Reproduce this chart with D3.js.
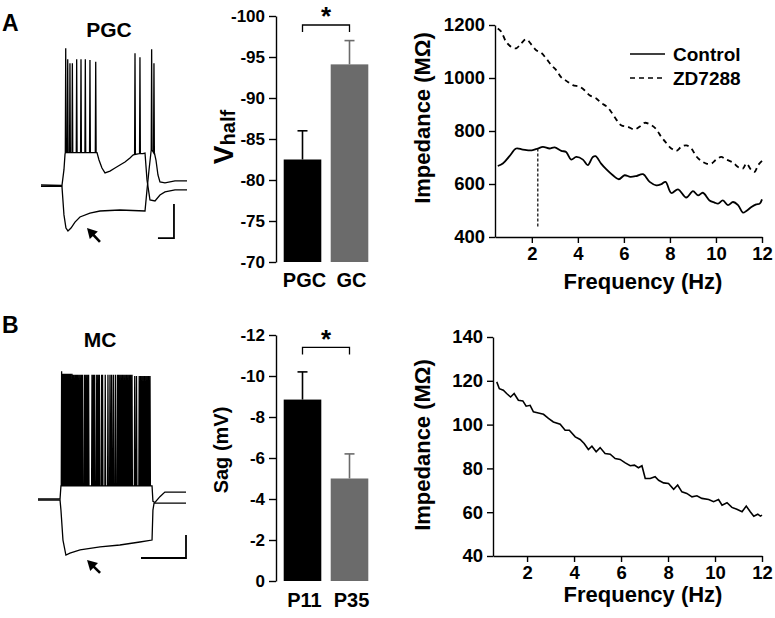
<!DOCTYPE html>
<html><head><meta charset="utf-8">
<script src="https://cdn.jsdelivr.net/npm/d3@7"></script>
<style>
html,body{margin:0;padding:0;background:#fff;}
text{font-family:"Liberation Sans",Arial,sans-serif;font-weight:bold;fill:#000;}
</style></head>
<body>
<script>
// ---------------- DATA ----------------
// Panel A bar chart (V half)
const barCatsA = ["PGC", "GC"];
const barValsA = [-82.5, -94.1];
const barErrA = [3.5, 2.9];
const barTicksA = [-100, -95, -90, -85, -80, -75, -70];
// Panel B bar chart (Sag)
const barCatsB = ["P11", "P35"];
const barValsB = [-8.85, -5.0];
const barErrB = [1.35, 1.2];
const barTicksB = [-12, -10, -8, -6, -4, -2, 0];
const barColors = ["#000000", "#6b6b6b"];

// Panel A impedance
const freqCtrlA = [0.52,0.74,1.03,1.32,1.61,2.0,2.26,2.48,2.77,2.99,3.28,3.49,3.71,3.93,4.22,4.43,4.65,4.77,5.01,5.23,5.52,5.78,6.03,6.28,6.54,6.83,7.12,7.41,7.62,7.81,8.06,8.35,8.71,9.0,9.22,9.43,9.72,9.94,10.09,10.3,10.52,10.74,10.96,11.17,11.32,11.54,11.75,11.9,12.0];
const impCtrlA = [668,677,705,734,730,727,734,740,734,738,725,721,692,702,692,671,702,705,677,656,633,618,633,627,630,637,608,595,599,608,566,580,549,573,557,567,538,530,526,538,520,532,520,492,498,513,523,526,542];
const freqZdA = [0.52,0.67,0.88,1.10,1.32,1.54,1.75,2.0,2.19,2.41,2.62,2.84,3.06,3.28,3.49,3.78,4.07,4.29,4.51,4.80,5.01,5.23,5.45,5.67,5.88,6.17,6.46,6.68,6.90,7.19,7.41,7.62,7.84,8.06,8.28,8.49,8.71,8.93,9.14,9.36,9.58,9.80,10.01,10.23,10.45,10.74,10.96,11.17,11.32,11.54,11.68,11.83,12.0];
const impZdA = [1187,1175,1137,1118,1112,1131,1146,1124,1105,1095,1074,1049,1030,1002,990,973,967,954,935,923,906,894,872,843,822,816,806,816,831,822,806,778,755,734,725,740,746,734,705,687,677,677,692,702,692,681,664,658,677,652,646,671,687];
const resonanceFreqA = 2.26;
const impTicksYA = [400, 600, 800, 1000, 1200];
const freqTicks = [2, 4, 6, 8, 10, 12];
const legendLabelsA = ["Control", "ZD7288"];

// Panel B impedance
const freqB = [0.71,0.82,0.99,1.13,1.30,1.45,1.63,1.82,1.96,2.13,2.27,2.48,2.70,2.91,3.12,3.41,3.62,3.80,4.05,4.26,4.43,4.61,4.76,4.94,5.11,5.32,5.54,5.75,5.96,6.18,6.39,6.57,6.74,6.89,7.03,7.24,7.45,7.60,7.81,8.02,8.24,8.41,8.59,8.80,9.02,9.23,9.44,9.73,9.94,10.15,10.30,10.51,10.72,10.93,11.15,11.33,11.50,11.65,11.82,11.93,12.0];
const impB = [119.5,116.4,115.7,114.2,112.6,114.2,111.1,110.8,108.4,108.8,105.8,105.3,104.7,102.8,101.2,100.2,97.4,97.4,94.4,93.2,91.4,88.6,90.1,87.6,89.5,86.8,86.5,84.5,84.1,82.5,81.2,81.5,80.3,81.2,75.4,75.4,76.2,74.6,73.4,73.1,70.5,72.4,69.3,68.6,67.0,67.5,66.3,65.8,64.8,65.8,63.2,64.3,62.2,61.3,60.2,62.8,60.2,58.2,59.1,58.2,58.7];
const impTicksYB = [40, 60, 80, 100, 120, 140];

// Voltage traces (time ms, mV)
const traceAUpper = [[0,-60],[262,-60.3],[287,-51],[300,-42],[700,-41],[725,-45.3],[762,-50],[800,-52.9],[862,-51.8],[925,-50],[987,-48.2],[1050,-46.5],[1112,-44.1],[1150,-42.4],[1275,-41.5],[1300,-41.2],[1325,-57],[1362,-68.8],[1425,-69.4],[1487,-65.9],[1550,-64.1],[1675,-62.9],[1825,-62.9]];
const spikesAUpper = [[309,20.4,-41],[334,13.9,-41],[362,11.6,-41],[392,11.6,-41],[446,13.9,-41],[500,13.9,-41],[554,13.9,-41],[612,13.5,-41],[684,12.5,-41],[1175,17.5,-42],[1237,15.1,-41.5]];
const traceALower = [[0,-60.8],[262,-60.8],[287,-77.6],[312,-85.3],[337,-87],[375,-85.3],[425,-81.8],[487,-78.8],[612,-76.5],[737,-75.3],[987,-74.7],[1300,-75.3],[1325,-62.9],[1350,-51.2],[1375,-40.6],[1437,-45.3],[1462,-54.1],[1487,-58.2],[1550,-58.8],[1675,-57.6],[1825,-57.6]];
const spikesALower = [[1383,19.8,-39.5],[1412,11.6,-41]];

const traceBUpper = [[0,-60],[98,-60],[102,-48.5],[507,-48.5],[511,-62],[520,-63],[542,-58],[564,-54],[658,-54]];
const spikeTimesB = [105,110,114,118,123,127,132,136,141,145,151,155,160,166,170,175,181,187,193,198,207,213,219,225,240,246,252,261,267,273,283,287,299,311,320,327,335,344,353,358,364,370,376,382,388,394,400,406,412,418,430,438,450,456,462,468,474,480,486,492,498];
const spikePeaksB = [51,49,49,49,49,49,49,49,49,49,49,48,48,48,48,48,48,48,48,48,48,48,48,48,48,48,48,48,48,48,48,48,48,48,48,48,48,48,48,48,48,48,48,48,48,48,48,48,48,48,47,47,47,47,47,47,47,47,47,47,47];
const traceBLower = [[0,-61],[98,-61],[102,-69.6],[111,-95.7],[124,-108.7],[142,-107],[187,-104.3],[276,-101.7],[364,-100],[453,-97.4],[507,-95.7],[511,-69.6],[516,-63.5],[542,-63.5],[658,-63.5]];

// ---------------- DRAW ----------------
const W = 775, H = 618;
const svg = d3.select("body").append("svg").attr("width", W).attr("height", H);

function styleAxis(g, fs) {
  g.selectAll("path.domain").attr("stroke", "#000").attr("stroke-width", 1.4);
  g.selectAll(".tick line").attr("stroke", "#000").attr("stroke-width", 1.4);
  g.selectAll(".tick text").attr("fill", "#000")
    .style("font-family", '"Liberation Sans",Arial,sans-serif')
    .style("font-weight", "bold").style("font-size", fs + "px");
}

// Panel labels and titles
svg.append("text").attr("x", 2).attr("y", 31).style("font-size", "23px").text("A");
svg.append("text").attr("x", 2).attr("y", 333).style("font-size", "23px").text("B");
svg.append("text").attr("x", 109).attr("y", 37).attr("text-anchor", "middle").style("font-size", "21px").text("PGC");
svg.append("text").attr("x", 100).attr("y", 347).attr("text-anchor", "middle").style("font-size", "21px").text("MC");

// ---- Traces ----
function buildTrace(base, spikes, hw) {
  const pts = base.map(d => [d[0], d[1]]);
  spikes.forEach(s => {
    pts.push([s[0] - hw, s[2]]);
    pts.push([s[0], s[1]]);
    pts.push([s[0] + hw, s[2]]);
  });
  pts.sort((a, b) => a[0] - b[0]);
  return pts;
}
function drawArrow(g, x1, y1, x2, y2) {
  const dx = x2 - x1, dy = y2 - y1, L = Math.hypot(dx, dy);
  const ux = dx / L, uy = dy / L, hl = 10, hw = 5.5;
  const bx = x2 - ux * hl, by = y2 - uy * hl;
  g.append("line").attr("x1", x1).attr("y1", y1).attr("x2", bx + ux).attr("y2", by + uy)
    .attr("stroke", "#000").attr("stroke-width", 2.6);
  g.append("path").attr("d", `M${x2},${y2}L${bx - uy * hw},${by + ux * hw}L${bx + uy * hw},${by - ux * hw}Z`).attr("fill", "#000");
}

// Panel A trace
{
  const tx = d3.scaleLinear().domain([0, 1825]).range([41, 187]);
  const ty = d3.scaleLinear().domain([-60, 20]).range([185, 49]);
  const line = d3.line().x(d => tx(d[0])).y(d => ty(d[1]));
  const g = svg.append("g");
  [buildTrace(traceAUpper, spikesAUpper, 5), buildTrace(traceALower, spikesALower, 5)].forEach(p => {
    g.append("path").attr("d", line(p)).attr("fill", "none").attr("stroke", "#000").attr("stroke-width", 1.3);
  });
  // scale bar: 200 ms, 20 mV
  g.append("path").attr("d", `M${tx(1462)},${ty(-91.2)}H${tx(1662)}V${ty(-71.2)}`).attr("fill", "none").attr("stroke", "#000").attr("stroke-width", 1.8);
  drawArrow(g, tx(737), ty(-93.5), tx(575), ty(-85.3));
}
// Panel B trace
{
  const tx = d3.scaleLinear().domain([0, 658]).range([38, 186]);
  const ty = d3.scaleLinear().domain([-60, 20]).range([499, 407]);
  const line = d3.line().x(d => tx(d[0])).y(d => ty(d[1]));
  const g = svg.append("g");
  const spikesB = spikeTimesB.map((t, i) => [t, spikePeaksB[i], -48.5]);
  [buildTrace(traceBUpper, spikesB, 1.6), buildTrace(traceBLower, [], 1.6)].forEach(p => {
    g.append("path").attr("d", line(p)).attr("fill", "none").attr("stroke", "#000").attr("stroke-width", 1.3);
  });
  g.append("path").attr("d", `M${tx(458)},${ty(-111.3)}H${tx(658)}V${ty(-91.3)}`).attr("fill", "none").attr("stroke", "#000").attr("stroke-width", 1.8);
  drawArrow(g, tx(276), ty(-124.3), tx(218), ty(-113));
}

// ---- Bar charts ----
function barChart(cats, vals, errs, ticks, yDomain, yRange, bracketY, starY, catY) {
  const x = d3.scaleBand().domain(cats).range([279, 373]).paddingInner(0.2).paddingOuter(0.1);
  const y = d3.scaleLinear().domain(yDomain).range(yRange);
  const g = svg.append("g");
  const ax = g.append("g").attr("transform", "translate(276,0)")
    .call(d3.axisLeft(y).tickValues(ticks).tickFormat(d => String(d)).tickSize(7).tickSizeOuter(0).tickPadding(4));
  styleAxis(ax, 17);
  cats.forEach((c, i) => {
    const v = vals[i];
    const cx = x(c) + x.bandwidth() / 2;
    const top = y(v - errs[i]);
    g.append("line").attr("x1", cx).attr("x2", cx).attr("y1", y(v)).attr("y2", top).attr("stroke", barColors[i]).attr("stroke-width", 1.6);
    g.append("line").attr("x1", cx - 5).attr("x2", cx + 5).attr("y1", top).attr("y2", top).attr("stroke", barColors[i]).attr("stroke-width", 1.6);
    g.append("rect").attr("x", x(c)).attr("width", x.bandwidth())
      .attr("y", y(v)).attr("height", y(yDomain[0]) - y(v)).attr("fill", barColors[i]);
    g.append("text").attr("x", cx + 2).attr("y", y(yDomain[0]) + catY).attr("text-anchor", "middle").style("font-size", "20px").text(c);
  });
  const c1 = x(cats[0]) + x.bandwidth() / 2, c2 = x(cats[1]) + x.bandwidth() / 2;
  g.append("path").attr("d", `M${c1},${y(bracketY[1])}V${y(bracketY[0])}H${c2}V${y(bracketY[1])}`)
    .attr("fill", "none").attr("stroke", "#000").attr("stroke-width", 1.3);
  g.append("text").attr("x", (c1 + c2) / 2).attr("y", y(bracketY[0]) + starY).attr("text-anchor", "middle").style("font-size", "26px").text("*");
  return g;
}
const gA = barChart(barCatsA, barValsA, barErrA, barTicksA, [-70, -100], [262, 16], [-98.9, -98.05], 0, 25);
const vl = gA.append("text").attr("transform", "translate(233,137) rotate(-90)").attr("text-anchor", "middle");
vl.append("tspan").style("font-size", "28px").text("V");
vl.append("tspan").style("font-size", "20px").attr("dy", 2).text("half");
const gB = barChart(barCatsB, barValsB, barErrB, barTicksB, [0, -12], [581, 335], [-11.4, -11.05], 1, 26);
gB.append("text").attr("transform", "translate(228,450) rotate(-90)").attr("text-anchor", "middle").style("font-size", "20px").text("Sag (mV)");

// ---- Impedance plots ----
function impPlot(xDomain, xRange, yDomain, yRange, yTicks, titleY, freqTitleY) {
  const x = d3.scaleLinear().domain(xDomain).range(xRange);
  const y = d3.scaleLinear().domain(yDomain).range(yRange);
  const g = svg.append("g");
  const ay = g.append("g").attr("transform", `translate(${xRange[0]},0)`)
    .call(d3.axisLeft(y).tickValues(yTicks).tickFormat(d => String(d)).tickSize(6).tickSizeOuter(0).tickPadding(4));
  styleAxis(ay, 18.5);
  const axx = g.append("g").attr("transform", `translate(0,${yRange[0]})`)
    .call(d3.axisBottom(x).tickValues(freqTicks).tickFormat(d => String(d)).tickSize(6).tickSizeOuter(0).tickPadding(4));
  styleAxis(axx, 18.5);
  g.append("text").attr("transform", `translate(430,${titleY}) rotate(-90)`).attr("text-anchor", "middle").style("font-size", "22px").text("Impedance (MΩ)");
  g.append("text").attr("x", 643).attr("y", freqTitleY).attr("text-anchor", "middle").style("font-size", "22px").text("Frequency (Hz)");
  return {g, x, y};
}
{
  const {g, x, y} = impPlot([0.4, 12], [495, 762], [400, 1200], [237, 25], impTicksYA, 118, 289);
  const line = d3.line().x(d => x(d[0])).y(d => y(d[1])).curve(d3.curveCatmullRom.alpha(0.5));
  g.append("path").attr("d", line(freqZdA.map((f, i) => [f, impZdA[i]]))).attr("fill", "none").attr("stroke", "#000").attr("stroke-width", 1.8).attr("stroke-dasharray", "5,4");
  g.append("path").attr("d", line(freqCtrlA.map((f, i) => [f, impCtrlA[i]]))).attr("fill", "none").attr("stroke", "#000").attr("stroke-width", 1.8);
  g.append("line").attr("x1", x(resonanceFreqA)).attr("x2", x(resonanceFreqA)).attr("y1", y(734)).attr("y2", y(432))
    .attr("stroke", "#000").attr("stroke-width", 1.2).attr("stroke-dasharray", "3,2");
  // legend
  legendLabelsA.forEach((lab, i) => {
    const ly = 54 + i * 24;
    g.append("line").attr("x1", 630).attr("x2", 665).attr("y1", ly).attr("y2", ly).attr("stroke", "#000").attr("stroke-width", 1.6)
      .attr("stroke-dasharray", i === 1 ? "5,4" : null);
    g.append("text").attr("x", 673).attr("y", ly + 7).style("font-size", "19px").text(lab);
  });
}
{
  const {g, x, y} = impPlot([0.55, 12], [493, 762], [40, 140], [556, 337], impTicksYB, 445, 602);
  const line = d3.line().x(d => x(d[0])).y(d => y(d[1]));
  g.append("path").attr("d", line(freqB.map((f, i) => [f, impB[i]]))).attr("fill", "none").attr("stroke", "#000").attr("stroke-width", 1.6);
}
</script>
</body></html>
